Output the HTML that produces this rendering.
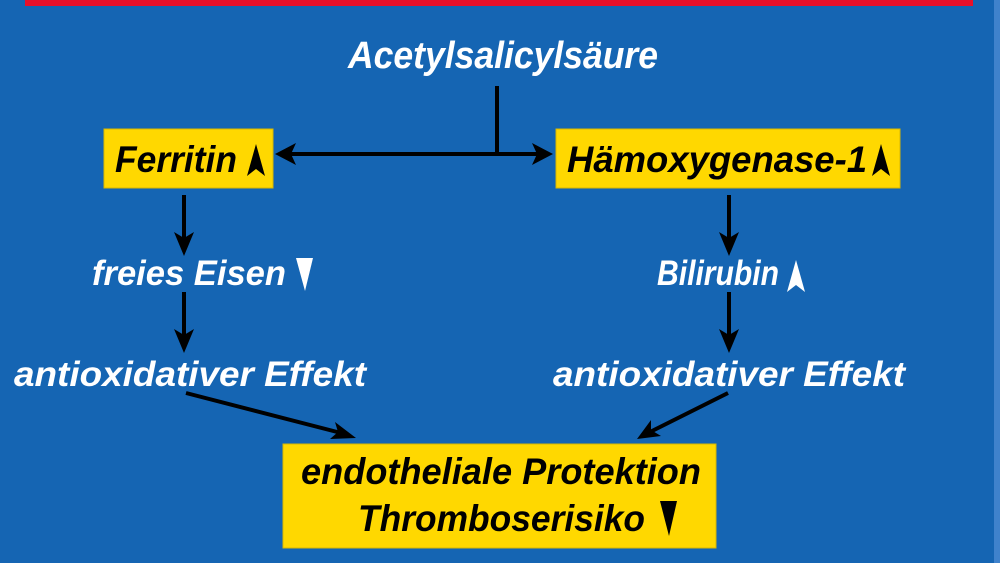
<!DOCTYPE html>
<html><head><meta charset="utf-8"><style>
html,body{margin:0;padding:0;background:#1565b3;}
svg{display:block}
text{font-family:"Liberation Sans Narrow","Liberation Sans",sans-serif;font-weight:bold;font-style:italic;}
</style></head><body>
<svg width="1000" height="563" viewBox="0 0 1000 563" xmlns="http://www.w3.org/2000/svg">
<rect width="1000" height="563" fill="#1565b3"/>
<rect x="994" y="0" width="6" height="563" fill="#3f82cc"/>
<rect x="25" y="0" width="948" height="6" fill="#e8102a"/>
<rect x="104" y="129" width="169" height="59" fill="#ffd800" stroke="#d9b800"/>
<rect x="556" y="129" width="344" height="59" fill="#ffd800" stroke="#d9b800"/>
<rect x="283" y="444" width="433" height="104" fill="#ffd800" stroke="#d9b800"/>
<text x="348" y="68" font-size="38" fill="#fff" textLength="310" lengthAdjust="spacingAndGlyphs">Acetylsalicylsäure</text>
<text x="115" y="172" font-size="37" fill="#000" textLength="122" lengthAdjust="spacingAndGlyphs">Ferritin</text>
<text x="567" y="172" font-size="37" fill="#000" textLength="300" lengthAdjust="spacingAndGlyphs">Hämoxygenase-1</text>
<text x="92" y="285" font-size="35" fill="#fff" textLength="194" lengthAdjust="spacingAndGlyphs">freies Eisen</text>
<text x="657" y="285" font-size="35" fill="#fff" textLength="122" lengthAdjust="spacingAndGlyphs">Bilirubin</text>
<text x="14" y="386" font-size="35" fill="#fff" textLength="352" lengthAdjust="spacingAndGlyphs">antioxidativer Effekt</text>
<text x="553" y="386" font-size="35" fill="#fff" textLength="352" lengthAdjust="spacingAndGlyphs">antioxidativer Effekt</text>
<text x="301" y="484" font-size="37" fill="#000" textLength="400" lengthAdjust="spacingAndGlyphs">endotheliale Protektion</text>
<text x="358" y="531" font-size="37" fill="#000" textLength="287" lengthAdjust="spacingAndGlyphs">Thromboserisiko</text>
<path d="M256,144 L265,176 L256,169 L247,176 Z" fill="#000"/>
<path d="M881,144 L890,176 L881,169 L872,176 Z" fill="#000"/>
<path d="M296,258 L313,258 L305,291 Z" fill="#fff"/>
<path d="M796,260 L805,292 L796,285 L787,292 Z" fill="#fff"/>
<path d="M660,501 L677,501 L669,536 Z" fill="#000"/>
<g stroke="#000" stroke-width="4" fill="none">
<line x1="497" y1="86" x2="497" y2="154"/>
<line x1="285" y1="154" x2="542" y2="154"/>
<line x1="184" y1="195" x2="184" y2="245"/>
<line x1="184" y1="292" x2="184" y2="342"/>
<line x1="729" y1="195" x2="729" y2="245"/>
<line x1="729" y1="292" x2="729" y2="342"/>
<line x1="186" y1="393" x2="345" y2="434"/>
<line x1="728" y1="393" x2="648" y2="433"/>
</g>
<g fill="#000">
<path d="M275,154 L296,143 L291,154 L296,165 Z"/>
<path d="M553,154 L532,143 L537,154 L532,165 Z"/>
<path d="M184,256 L174,232 L184,238 L194,232 Z"/>
<path d="M184,353 L174,329 L184,335 L194,329 Z"/>
<path d="M729,256 L719,232 L729,238 L739,232 Z"/>
<path d="M729,353 L719,329 L729,335 L739,329 Z"/>
<path d="M356,438 L330,439 L338,432 L335,422 Z"/>
<path d="M637,439 L651,420 L651,430 L661,436 Z"/>
</g>
</svg>
</body></html>
